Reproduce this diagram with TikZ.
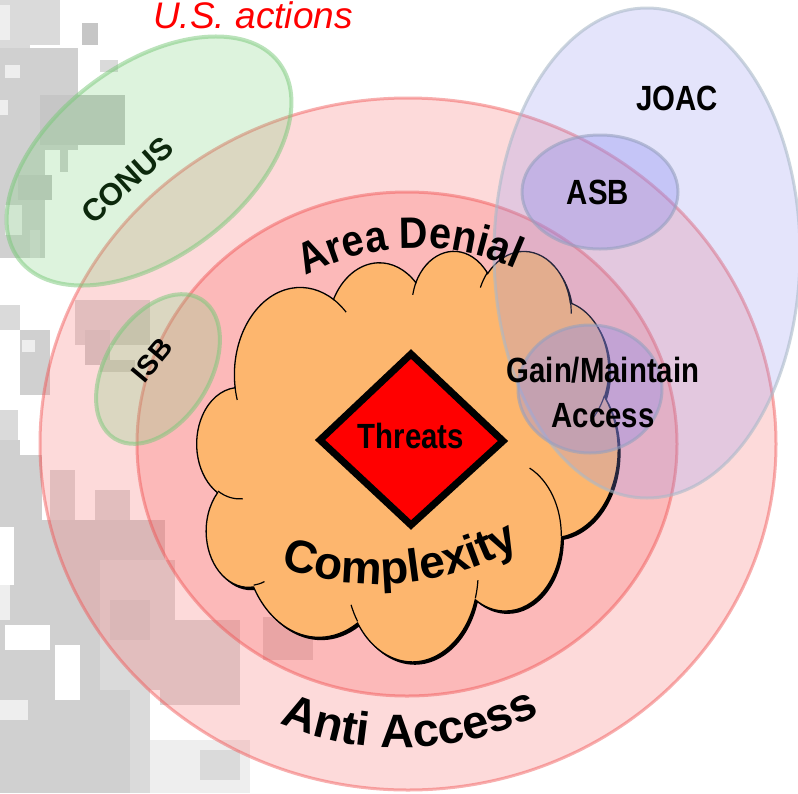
\documentclass[tikz,border=0pt]{standalone}
\usepackage{fontspec}
\setmainfont{Liberation Sans}
\newfontfamily\narrowfont[FakeStretch=0.84]{Liberation Sans}
\newfontfamily\curvefontA[FakeStretch=0.9]{Liberation Sans}
\newfontfamily\curvefontB[FakeStretch=1.0]{Liberation Sans}
\usetikzlibrary{decorations.text}

\definecolor{cL}{HTML}{EEEEEE}
\definecolor{cA}{HTML}{DADADA}
\definecolor{cB}{HTML}{D0D0D0}
\definecolor{cC}{HTML}{C6C6C6}
\definecolor{ringfill}{RGB}{250,110,110}
\definecolor{ringline}{RGB}{240,80,80}
\definecolor{grfill}{RGB}{120,210,120}
\definecolor{grline}{RGB}{120,200,120}
\definecolor{jfill}{RGB}{150,150,240}
\definecolor{jline}{RGB}{170,185,200}
\definecolor{bfill}{RGB}{140,140,240}
\definecolor{bline}{RGB}{150,160,190}
\definecolor{cloudfill}{RGB}{253,182,110}
\definecolor{conusgreen}{RGB}{12,40,12}

\newcommand\cldcalc[5]{%
  \pgfmathsetmacro\cldtmpS{atan2((#2)*sin(#4),(#3)*cos(#4))}%
  \pgfmathsetmacro\cldtmpE{atan2((#2)*sin((#4)+(#5)),(#3)*cos((#4)+(#5)))}%
  \pgfmathsetmacro\cldtmpD{\cldtmpE-\cldtmpS}%
  \pgfmathsetmacro\cldtmpD{ifthenelse(and(#5>0,\cldtmpD<0),\cldtmpD+360,\cldtmpD)}%
  \pgfmathsetmacro\cldtmpD{ifthenelse(and(#5<0,\cldtmpD>0),\cldtmpD-360,\cldtmpD)}%
  \expandafter\xdef\csname cld#1S\endcsname{\cldtmpS}%
  \expandafter\xdef\csname cld#1D\endcsname{\cldtmpD}%
}
\newcommand\cloudpath{(39.00,143.70)
 arc[x radius=67.53,y radius=91.90,start angle=\cldaS,delta angle=\cldaD]
 arc[x radius=53.33,y radius=72.67,start angle=\cldbS,delta angle=\cldbD]
 arc[x radius=43.65,y radius=59.45,start angle=\cldcS,delta angle=\cldcD]
 arc[x radius=48.57,y radius=65.95,start angle=\clddS,delta angle=\clddD]
 arc[x radius=53.33,y radius=72.73,start angle=\cldeS,delta angle=\cldeD]
 arc[x radius=67.75,y radius=92.20,start angle=\cldfS,delta angle=\cldfD]
 arc[x radius=57.85,y radius=78.67,start angle=\cldgS,delta angle=\cldgD]
 arc[x radius=67.52,y radius=92.15,start angle=\cldhS,delta angle=\cldhD]
 arc[x radius=77.20,y radius=105.43,start angle=\cldiS,delta angle=\cldiD]
 arc[x radius=43.60,y radius=59.18,start angle=\cldjS,delta angle=\cldjD]
 arc[x radius=43.45,y radius=59.45,start angle=\cldkS,delta angle=\cldkD] -- cycle}

\tikzset{
  ring/.style={fill=ringfill, fill opacity=#1, draw=ringline, draw opacity=0.45, line width=3},
  greenblob/.style={fill=grfill, fill opacity=0.25, draw=grline, draw opacity=0.5, line width=4},
  joacblob/.style={fill=jfill, fill opacity=0.25, draw=jline, draw opacity=0.6, line width=3},
  blueblob/.style={fill=bfill, fill opacity=0.35, draw=bline, draw opacity=0.6, line width=3},
  narrowlabel/.style={anchor=base, inner sep=0, font=\narrowfont\bfseries\fontsize{35}{40}\selectfont},
  boldlabel/.style={inner sep=0, font=\bfseries\fontsize{#1}{#1}\selectfont},
  curvedtext/.style n args={3}{decorate, decoration={text along path, text align=center,
     text={|#1\bfseries\fontsize{#2}{#2}\selectfont|#3}}}
}

\begin{document}
\begin{tikzpicture}[x=1pt, y=-1pt]
\useasboundingbox (0,0) rectangle (798,793);
\clip (0,0) rectangle (798,793);
\fill[white] (0,0) rectangle (798,793);

% ---------- camouflage background ----------
\fill[cA] (0,0) rectangle (30,258);
\fill[cL] (0,5) rectangle (10,40);
\fill[cA] (30,0) rectangle (60,45);
\fill[cB] (0,48) rectangle (78,150);
\fill[cL] (5,65) rectangle (20,78);
\fill[cL] (0,100) rectangle (8,115);
\fill[cC] (40,95) rectangle (125,145);
\fill[cB] (60,145) rectangle (68,172);
\fill[cB] (0,150) rectangle (45,258);
\fill[cC] (18,175) rectangle (52,200);
\fill[cL] (5,205) rectangle (22,235);
\fill[cC] (82,23) rectangle (98,45);
\fill[cA] (100,60) rectangle (118,72);
\fill[cA] (30,230) rectangle (40,258);
\fill[cA] (0,305) rectangle (20,330);
\fill[cB] (20,330) rectangle (50,395);
\fill[cL] (22,340) rectangle (35,352);
\fill[cA] (75,300) rectangle (150,345);
\fill[cB] (85,330) rectangle (110,365);
\fill[cA] (100,360) rectangle (135,372);
\fill[cA] (0,410) rectangle (18,440);
\fill[cB] (0,440) rectangle (20,520);
\fill[cB] (15,455) rectangle (42,520);
\fill[cA] (50,470) rectangle (75,520);
\fill[cA] (95,490) rectangle (130,520);
\fill[cB] (0,520) rectangle (130,793);
\fill[white] (0,527) rectangle (14,585);
\fill[cL] (0,585) rectangle (10,620);
\fill[white] (5,625) rectangle (50,650);
\fill[white] (55,645) rectangle (80,700);
\fill[cL] (0,700) rectangle (28,720);
\fill[cB] (130,520) rectangle (165,660);
\fill[cA] (100,560) rectangle (175,690);
\fill[cB] (110,600) rectangle (150,640);
\fill[cA] (160,620) rectangle (240,705);
\fill[cA] (130,660) rectangle (150,793);
\fill[cL] (150,740) rectangle (250,793);
\fill[cA] (200,750) rectangle (240,780);
\fill[cA] (263,617) rectangle (313,660);

% ---------- rings ----------
\path[ring=0.25] (408,444) ellipse [x radius=368, y radius=346];
\path[ring=0.30] (407,444) ellipse [x radius=270, y radius=252];

% ---------- green blobs ----------
\path[greenblob, rotate around={37:(149,161)}] (149,161) ellipse [x radius=163, y radius=96];
\path[greenblob, rotate around={58:(158,369)}] (158,369) ellipse [x radius=82, y radius=52];

% ---------- cloud ----------
\cldcalc{a}{67.53}{91.90}{-190.4875}{123.7805}
\cldcalc{b}{53.33}{72.67}{-144.1024}{89.9452}
\cldcalc{c}{43.65}{59.45}{-145.8079}{99.7230}
\cldcalc{d}{48.57}{65.95}{-130.9861}{117.2417}
\cldcalc{e}{53.33}{72.73}{-78.7089}{109.0269}
\cldcalc{f}{67.75}{92.20}{-46.2673}{130.2690}
\cldcalc{g}{57.85}{78.67}{0.6250}{114.0333}
\cldcalc{h}{67.52}{92.15}{22.4516}{115.1726}
\cldcalc{i}{77.20}{105.43}{66.2426}{75.7110}
\cldcalc{j}{43.60}{59.18}{-274.9421}{146.7356}
\cldcalc{k}{43.45}{59.45}{-246.8285}{152.5189}
\cldcalc{za}{43.45}{59.45}{86.7420}{26.4295}
\cldcalc{zb}{43.60}{59.18}{73.6105}{11.4475}
\cldcalc{zc}{67.52}{92.15}{137.6242}{14.0811}
\cldcalc{zd}{67.52}{92.15}{6.4533}{15.9984}
\cldcalc{ze}{57.85}{78.67}{-70.2924}{70.9174}
\cldcalc{zf}{53.33}{72.73}{30.3180}{27.7515}
\cldcalc{zg}{48.57}{65.95}{-13.7443}{14.8589}
\cldcalc{zh}{48.57}{65.95}{-149.1815}{18.1954}
\cldcalc{zi}{43.65}{59.45}{-163.4943}{17.6864}
\cldcalc{zj}{67.53}{91.90}{-66.7070}{12.3194}
\cldcalc{zk}{67.53}{91.90}{157.6544}{11.8582}
\begin{scope}[shift={(197,250)}, xscale=0.9745, yscale=0.95]
  \fill[black, shift={(2.5,3)}] \cloudpath;
  \path[fill=cloudfill, draw=black, line width=1.3] \cloudpath;
  \draw[black, line width=1.2]
    (46.93,261.77) arc[x radius=43.45,y radius=59.45,start angle=\cldzaS,delta angle=\cldzaD]
    (69.28,348.99) arc[x radius=43.60,y radius=59.18,start angle=\cldzbS,delta angle=\cldzbD]
    (164.78,390.90) arc[x radius=67.52,y radius=92.15,start angle=\cldzcS,delta angle=\cldzcD]
    (288.27,347.51) arc[x radius=67.52,y radius=92.15,start angle=\cldzdS,delta angle=\cldzdD]
    (341.29,229.54) arc[x radius=57.85,y radius=78.67,start angle=\cldzeS,delta angle=\cldzeD]
    (417.98,153.54) arc[x radius=53.33,y radius=72.73,start angle=\cldzfS,delta angle=\cldzfD]
    (383.24,54.26) arc[x radius=48.57,y radius=65.95,start angle=\cldzgS,delta angle=\cldzgD]
    (290.78,39.52) arc[x radius=48.57,y radius=65.95,start angle=\cldzhS,delta angle=\cldzhD]
    (221.41,47.20) arc[x radius=43.65,y radius=59.45,start angle=\cldziS,delta angle=\cldziD]
    (140.00,51.92) arc[x radius=67.53,y radius=91.90,start angle=\cldzjS,delta angle=\cldzjD]
    (41.27,157.89) arc[x radius=67.53,y radius=91.90,start angle=\cldzkS,delta angle=\cldzkD];
\end{scope}

% ---------- threats diamond ----------
\draw[fill=red, draw=black, line width=7, miter limit=10]
  (411,354) -- (503,441) -- (411,525) -- (320,440) -- cycle;

% ---------- blue blobs ----------
\path[joacblob] (647,253) ellipse [x radius=153, y radius=245];
\path[blueblob] (600,192) ellipse [x radius=78, y radius=57];
\path[blueblob] (590,389) ellipse [x radius=72, y radius=64];

% ---------- curved texts ----------
\path[curvedtext={\curvefontA}{44}{Area Denial}] (418,486) ++(-142:238) arc[radius=238, start angle=-142, end angle=-42];
\path[curvedtext={\curvefontB}{46}{Complexity}] (378,298) ++(125:286) arc[radius=286, start angle=125, end angle=45];
\path[curvedtext={\curvefontB}{47}{Anti Access}] (400,440) ++(128:308) arc[radius=308, start angle=128, end angle=48];

% ---------- labels ----------
\node[anchor=base, inner sep=0, text=red, font=\itshape\fontsize{37}{40}\selectfont] (us) at (253,28) {U.S. actions};
\node[narrowlabel] (joac) at (677,110) {JOAC};
\node[narrowlabel] (asb) at (598,204) {ASB};
\node[narrowlabel] (gain) at (603,382) {Gain/Maintain};
\node[narrowlabel] (access) at (603,427) {Access};
\node[narrowlabel] (threats) at (411,448) {Threats};
\node[boldlabel=31, text=conusgreen, rotate=42] (conus) at (127.5,180) {CONUS};
\node[boldlabel=28, rotate=50] (isb) at (152,360) {ISB};
\end{tikzpicture}
\end{document}
